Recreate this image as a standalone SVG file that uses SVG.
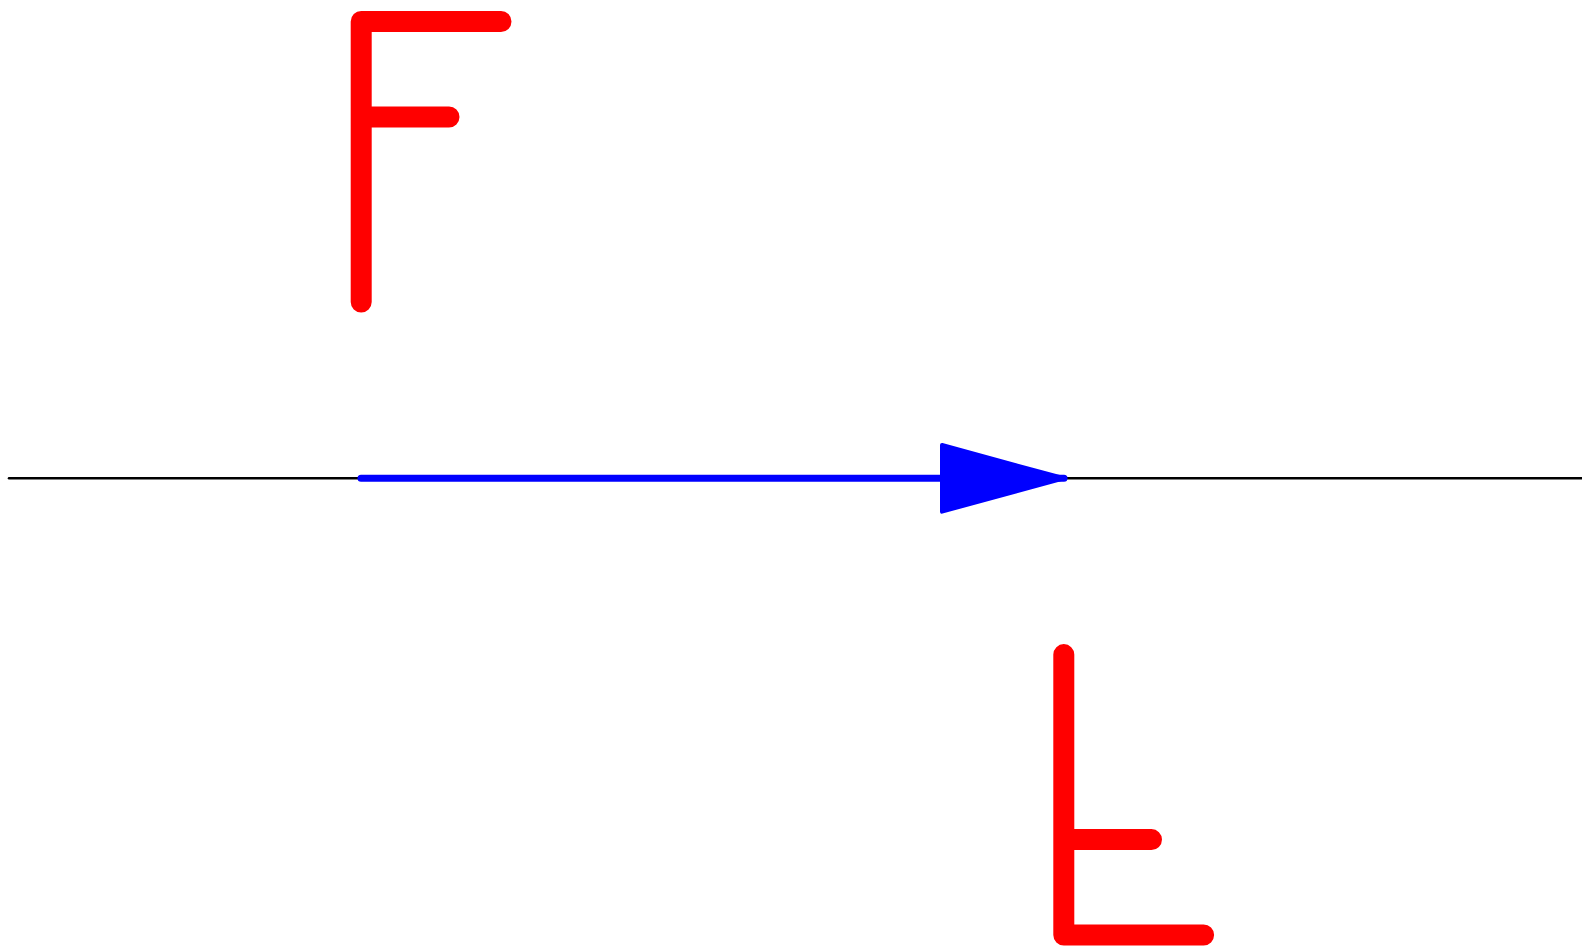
<svg xmlns="http://www.w3.org/2000/svg" width="1582" height="946" viewBox="0 0 1582 946">
<style>
.fig{fill:none;stroke:#ff0000;stroke-width:21;stroke-linecap:round;stroke-linejoin:round}
.axis{stroke:#000;stroke-width:2.5;stroke-linecap:round}
.vec{stroke:#0000ff;stroke-width:7;stroke-linecap:round}
</style>
<defs>
<marker id="ah" markerUnits="userSpaceOnUse" markerWidth="140" markerHeight="80" refX="124" refY="35.3" orient="auto" viewBox="0 0 140 80">
<path d="M2,2 L124,35.3 L2,68.6 Z" fill="#0000ff" stroke="#0000ff" stroke-width="4" stroke-linejoin="round"/>
</marker>
</defs>
<rect width="1582" height="946" fill="#ffffff"/>
<g id="connectors">
<line class="axis" x1="9" y1="478.3" x2="1582" y2="478.3"/>
<line class="vec" x1="361" y1="478.3" x2="1064" y2="478.3" marker-end="url(#ah)"/>
</g>
<g id="figureF">
<path class="fig" d="M361.2,302 L361.2,21.5 L501,21.5 M361.2,117 L449,117"/>
</g>
<g id="figureImage">
<path class="fig" d="M1063.8,654.6 L1063.8,935 L1203.6,935 M1063.8,839.6 L1151.5,839.6"/>
</g>
</svg>
